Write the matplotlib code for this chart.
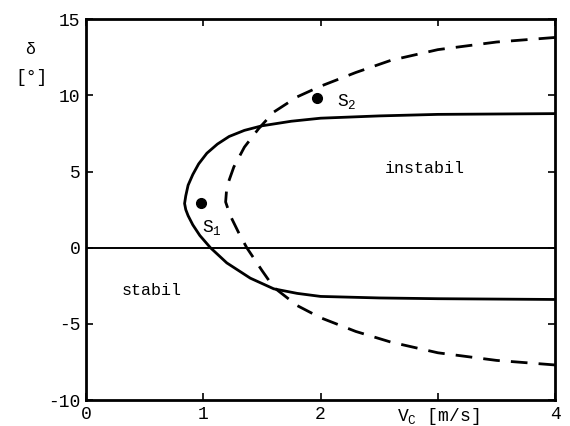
import matplotlib.pyplot as plt

plt.rcParams['font.family'] = ['Liberation Mono', 'DejaVu Sans Mono']
plt.rcParams['mathtext.fontset'] = 'custom'
plt.rcParams['mathtext.rm'] = 'Liberation Mono'

# Stabilitaetsgrenze (durchgezogen), vom unteren Ast ueber die Spitze zum oberen Ast
solid_x = [4.0, 3.0, 2.5, 2.0, 1.8, 1.6, 1.4, 1.2, 1.06, 0.97, 0.91, 0.87, 0.85, 0.84,
           0.85, 0.87, 0.91, 0.96, 1.03, 1.12, 1.22, 1.35, 1.5, 1.75, 2.0, 2.5, 3.0, 4.0]
solid_y = [-3.4, -3.35, -3.3, -3.2, -3.0, -2.7, -2.0, -1.0, 0.0, 0.8, 1.5, 2.1, 2.5, 2.9,
           3.4, 4.1, 4.8, 5.5, 6.2, 6.8, 7.3, 7.7, 8.0, 8.3, 8.5, 8.65, 8.75, 8.8]

# zweite Grenze (gestrichelt)
dash_x = [4.0, 3.5, 3.0, 2.6, 2.3, 2.0, 1.8, 1.6, 1.5, 1.37, 1.3, 1.23, 1.19,
          1.2, 1.26, 1.35, 1.47, 1.6, 1.8, 2.0, 2.3, 2.6, 3.0, 3.5, 4.0]
dash_y = [-7.7, -7.4, -6.9, -6.2, -5.5, -4.6, -3.8, -2.6, -1.5, 0.0, 1.0, 2.1, 3.0,
          4.0, 5.3, 6.6, 7.8, 8.9, 9.9, 10.6, 11.5, 12.3, 13.0, 13.5, 13.8]

# Betriebspunkte
pts_x = [0.98, 1.97]
pts_y = [2.9, 9.8]
pts_lbl = ['S$_1$', 'S$_2$']

xticks = [0, 1, 2, 3, 4]
xtick_lbl = ['0', '1', '2', r'$\mathrm{V_C}$ [m/s]', '4']
yticks = [-10, -5, 0, 5, 10, 15]

fig = plt.figure(figsize=(5.7, 4.26), dpi=100)
ax = fig.add_axes([0.151, 0.061, 0.823, 0.894])

ax.axhline(0, color='black', lw=1.4)
ax.plot(solid_x, solid_y, color='black', lw=2.0)
ax.plot(dash_x, dash_y, color='black', lw=2.0, dashes=(6, 4))
ax.plot(pts_x, pts_y, 'o', color='black', ms=7)

ax.text(0.99, 1.0, pts_lbl[0], fontsize=13)
ax.text(2.14, 9.3, pts_lbl[1], fontsize=13)
ax.text(2.55, 4.9, 'instabil', fontsize=12)
ax.text(0.3, -3.1, 'stabil', fontsize=12)

ax.set_xlim(0, 4)
ax.set_ylim(-10, 15)
ax.set_xticks(xticks)
ax.set_xticklabels(xtick_lbl, fontsize=13)
ax.set_yticks(yticks)
ax.set_yticklabels([str(v) for v in yticks], fontsize=13)
ax.tick_params(direction='in', length=5, width=1.2, top=True, right=True, pad=4)
for s in ax.spines.values():
    s.set_linewidth(2.0)

fig.text(0.052, 0.883, 'δ', fontsize=12, ha='center', va='center')
fig.text(0.056, 0.819, '[°]', fontsize=13, ha='center', va='center')

fig.savefig('out.png', dpi=100)
